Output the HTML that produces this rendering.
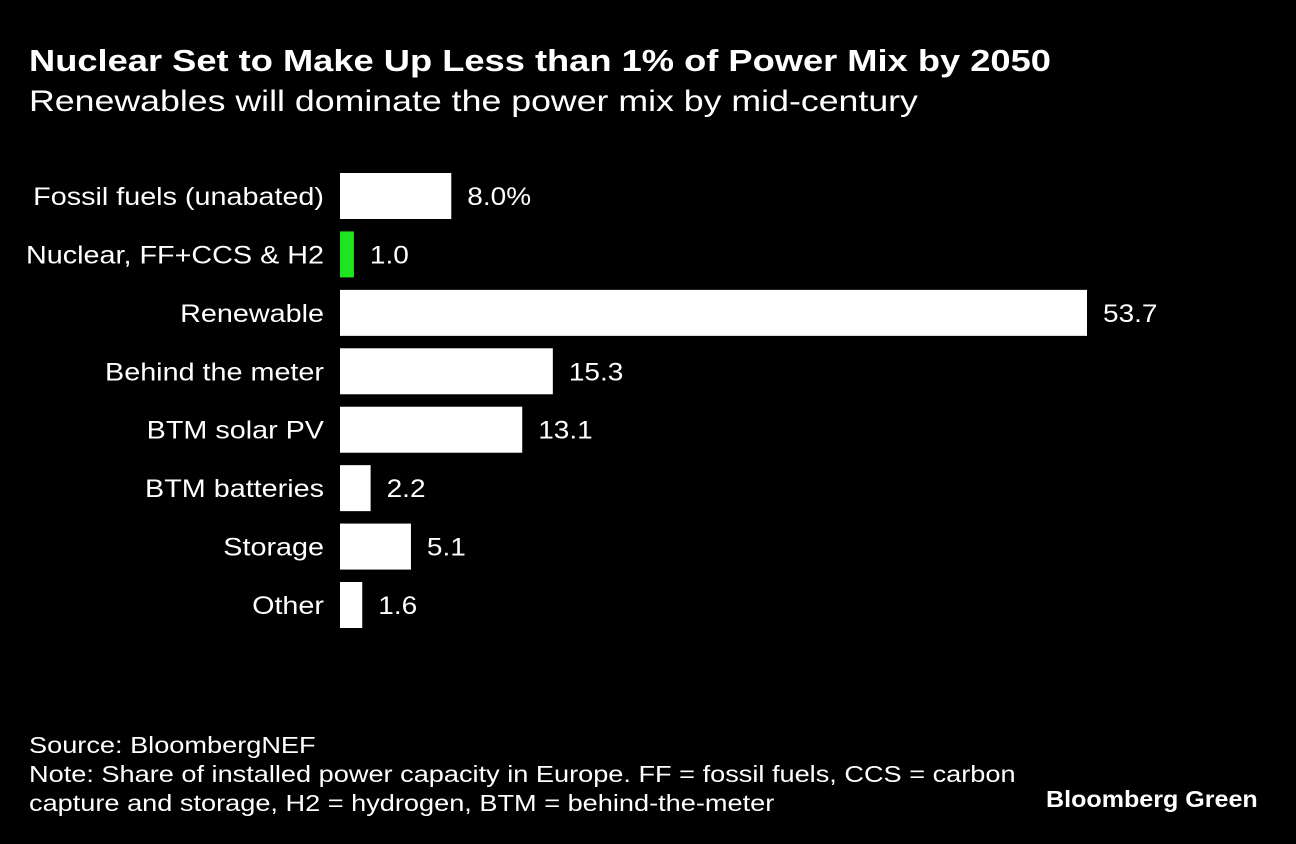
<!DOCTYPE html>
<html><head><meta charset="utf-8"><style>
html,body{margin:0;padding:0;background:#000;}
body{width:1296px;height:844px;position:relative;overflow:hidden;font-family:"Liberation Sans",sans-serif;color:#fff;}
.t{position:absolute;white-space:nowrap;transform-origin:0 0;}
</style></head><body>
<div class="t" style="left:29px;top:43px;font-size:31px;font-weight:bold;transform:scaleX(1.17);">Nuclear Set to Make Up Less than 1% of Power Mix by 2050</div>
<div class="t" style="left:29px;top:85px;font-size:30px;transform:scaleX(1.19);">Renewables will dominate the power mix by mid-century</div>
<svg id="chart" width="1296" height="700" style="position:absolute;left:0;top:0"></svg>
<div class="t" style="left:29px;top:731px;font-size:23px;line-height:29px;transform:scaleX(1.18);">Source: BloombergNEF<br>Note: Share of installed power capacity in Europe. FF = fossil fuels, CCS = carbon<br>capture and storage, H2 = hydrogen, BTM = behind-the-meter</div>
<div class="t" style="left:1046px;top:786px;font-size:23px;font-weight:bold;transform:scaleX(1.09);">Bloomberg Green</div>
<script>
const categories=["Fossil fuels (unabated)","Nuclear, FF+CCS & H2","Renewable","Behind the meter","BTM solar PV","BTM batteries","Storage","Other"];
const values=[8.0,1.0,53.7,15.3,13.1,2.2,5.1,1.6];
const valueLabels=["8.0%","1.0","53.7","15.3","13.1","2.2","5.1","1.6"];
const highlight=[false,true,false,false,false,false,false,false];
const svg=document.getElementById('chart');
const NS='http://www.w3.org/2000/svg';
const x0=340, pxPerUnit=747/53.7;
const xs=v=>v*pxPerUnit;
const yc=i=>196+i*58.43;
const bh=46;
function stretch(t,f){const w=t.getComputedTextLength();t.setAttribute('textLength',w*f);t.setAttribute('lengthAdjust','spacingAndGlyphs');}
categories.forEach((c,i)=>{
  const y=yc(i);
  const r=document.createElementNS(NS,'rect');
  r.setAttribute('x',x0);r.setAttribute('y',y-bh/2);
  r.setAttribute('width',xs(values[i]));r.setAttribute('height',bh);
  r.setAttribute('fill',highlight[i]?'#1ee61e':'#fff');
  
  
  svg.appendChild(r);
  const l=document.createElementNS(NS,'text');
  l.setAttribute('x',324);l.setAttribute('y',y+9);
  l.setAttribute('text-anchor','end');l.setAttribute('fill','#fff');
  l.setAttribute('font-size','25');l.setAttribute('font-family','Liberation Sans, sans-serif');
  l.textContent=c;
  
  
  svg.appendChild(l);
  stretch(l,1.15);
  const v=document.createElementNS(NS,'text');
  v.setAttribute('x',x0+xs(values[i])+16);v.setAttribute('y',y+9);
  v.setAttribute('fill','#fff');
  v.setAttribute('font-size','25');v.setAttribute('font-family','Liberation Sans, sans-serif');
  v.textContent=valueLabels[i];
  
  
  svg.appendChild(v);
  stretch(v,1.12);
});
</script>
</body></html>
